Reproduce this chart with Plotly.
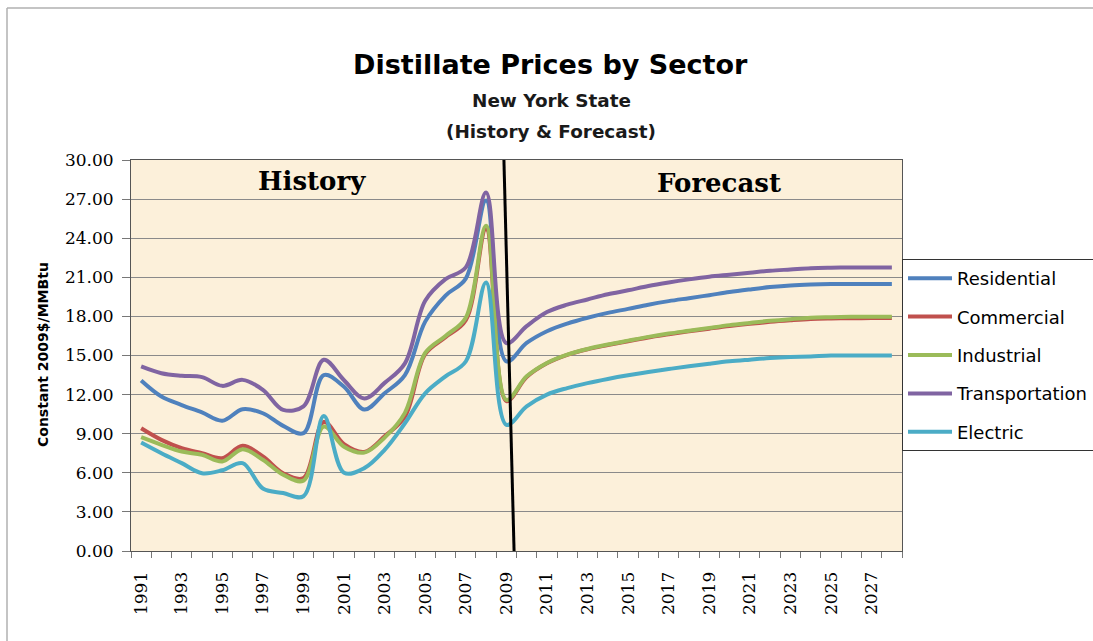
import plotly.graph_objects as go

years = list(range(1991, 2029))

residential = [13.08, 11.85, 11.2, 10.63, 10.0, 10.88, 10.57, 9.6, 9.04, 13.5,
               12.6, 10.85, 12.1, 13.5, 17.6, 19.6, 20.9, 26.9, 14.55,
               15.96, 16.86, 17.45, 17.9, 18.27, 18.58, 18.9, 19.17, 19.4, 19.63,
               19.87, 20.07, 20.25, 20.38, 20.45, 20.48, 20.48, 20.48, 20.48]
commercial = [9.42, 8.53, 7.89, 7.5, 7.12, 8.07, 7.25, 5.97, 5.6, 9.9,
              8.2, 7.6, 8.8, 10.3, 15.1, 16.4, 17.7, 24.7, 11.5,
              13.35, 14.4, 15.05, 15.48, 15.8, 16.1, 16.38, 16.62, 16.85, 17.06,
              17.26, 17.43, 17.58, 17.7, 17.8, 17.84, 17.86, 17.87, 17.87]
industrial = [8.73, 8.15, 7.63, 7.38, 6.87, 7.81, 7.0, 5.85, 5.4, 9.55,
              8.0, 7.55, 8.7, 10.6, 15.2, 16.5, 17.9, 24.95, 11.6,
              13.4, 14.43, 15.07, 15.5, 15.84, 16.14, 16.43, 16.68, 16.9, 17.12,
              17.33, 17.5, 17.66, 17.79, 17.9, 17.94, 17.97, 17.98, 17.98]
transportation = [14.16, 13.64, 13.44, 13.34, 12.67, 13.13, 12.37, 10.83, 11.1, 14.67,
                  13.1, 11.7, 12.9, 14.4, 19.2, 20.86, 21.76, 27.5, 15.95,
                  17.25, 18.33, 18.9, 19.3, 19.7, 20.0, 20.33, 20.6, 20.84, 21.05,
                  21.2, 21.35, 21.5, 21.6, 21.7, 21.74, 21.76, 21.76, 21.76]
electric = [8.32, 7.5, 6.74, 5.97, 6.2, 6.74, 4.8, 4.45, 4.2, 10.35,
            6.0, 6.36, 7.76, 9.8, 12.1, 13.4, 14.54, 20.6, 9.68,
            11.1, 12.0, 12.5, 12.88, 13.2, 13.48, 13.73, 13.96, 14.17, 14.37,
            14.55, 14.68, 14.8, 14.88, 14.93, 15.0, 15.0, 15.0, 15.0]

series_names = ["Residential", "Commercial", "Industrial", "Transportation", "Electric"]
series_values = [residential, commercial, industrial, transportation, electric]
series_colors = ["#4F81BD", "#C0504D", "#9BBB59", "#8064A2", "#4BACC6"]

y_ticks = [0, 3, 6, 9, 12, 15, 18, 21, 24, 27, 30]
x_ticks = list(range(1991, 2028, 2))

W, H = 1093, 641
L, R, T, B = 131, 902, 160, 551  # plot area in px


def px_x(px):
    return (px - L) / (R - L)


def px_y(py):
    return (B - py) / (B - T)


fig = go.Figure()
for name, vals, col in zip(series_names, series_values, series_colors):
    fig.add_trace(go.Scatter(
        x=years, y=vals, name=name, mode="lines", legendgroup=name,
        line=dict(color=col, width=4, shape="spline", smoothing=1.0),
    ))

# history / forecast divider
fig.add_shape(type="line", xref="x", yref="y", x0=2008.88, y0=30, x1=2009.38, y1=0,
              line=dict(color="black", width=3))
# outer frame
fig.add_shape(type="line", xref="paper", yref="paper", x0=px_x(7), y0=px_y(8),
              x1=px_x(7), y1=px_y(645), line=dict(color="#b0b0b0", width=1.5))
fig.add_shape(type="line", xref="paper", yref="paper", x0=px_x(7), y0=px_y(8),
              x1=px_x(1100), y1=px_y(8), line=dict(color="#b0b0b0", width=1.5))

sans = "'DejaVu Sans', sans-serif"
serif = "'DejaVu Serif', serif"
fig.add_annotation(text="<b>Distillate Prices by Sector</b>", xref="paper", yref="paper",
                   x=px_x(550), y=px_y(47), showarrow=False, xanchor="center",
                   font=dict(family=sans, size=27, color="black"))
fig.add_annotation(text="<b>New York State</b>", xref="paper", yref="paper",
                   x=px_x(551), y=px_y(88), showarrow=False, xanchor="center",
                   font=dict(family=sans, size=18.4, color="#1a1a1a"))
fig.add_annotation(text="<b>(History & Forecast)</b>", xref="paper", yref="paper",
                   x=px_x(551), y=px_y(119), showarrow=False, xanchor="center",
                   font=dict(family=sans, size=18.4, color="#1a1a1a"))
fig.add_annotation(text="<b>Constant 2009$/MMBtu</b>", xref="paper", yref="paper",
                   x=px_x(43), y=px_y(355), showarrow=False, textangle=-90,
                   xanchor="center", yanchor="middle",
                   font=dict(family=sans, size=14, color="black"))
fig.add_annotation(text="<b>History</b>", xref="x", yref="y", x=1999.42, y=28.4,
                   showarrow=False, xanchor="center",
                   font=dict(family=serif, size=26, color="black"))
fig.add_annotation(text="<b>Forecast</b>", xref="x", yref="y", x=2019.48, y=28.2,
                   showarrow=False, xanchor="center",
                   font=dict(family=serif, size=26, color="black"))

fig.update_layout(
    width=W, height=H,
    margin=dict(l=L, r=W - R, t=T, b=H - B, autoexpand=False),
    paper_bgcolor="white",
    plot_bgcolor="#FCF0DA",
    showlegend=True,
    legend=dict(
        x=1.0, xanchor="left", y=px_y(259), yanchor="top",
        bgcolor="white", bordercolor="#333", borderwidth=1,
        font=dict(family=sans, size=18, color="black"),
        tracegroupgap=12, itemwidth=44,
    ),
    xaxis=dict(
        range=[1990.5, 2028.5], tickmode="array", tickvals=x_ticks,
        ticktext=[str(v) for v in x_ticks], tickangle=-90, ticks="",
        tickfont=dict(family=serif, size=17, color="black"),
        ticklabelstandoff=13,
        showgrid=False, zeroline=False,
        showline=True, linecolor="#555", linewidth=1, mirror=True,
        minor=dict(ticks="outside", tickmode="linear", tick0=0.5, dtick=1,
                   ticklen=6, tickcolor="#777", showgrid=False),
    ),
    yaxis=dict(
        range=[0, 30], tickmode="array", tickvals=y_ticks,
        ticktext=["%.2f" % v for v in y_ticks],
        tickfont=dict(family=serif, size=17, color="black"),
        ticks="outside", ticklen=8, tickcolor="#777", ticklabelstandoff=5,
        showgrid=True, gridcolor="#8a8a8a", gridwidth=1, zeroline=False,
        showline=True, linecolor="#555", linewidth=1, mirror=True,
    ),
)

fig.write_html("out.html", config={"displayModeBar": False},
               post_script="document.body.style.margin='0';")
